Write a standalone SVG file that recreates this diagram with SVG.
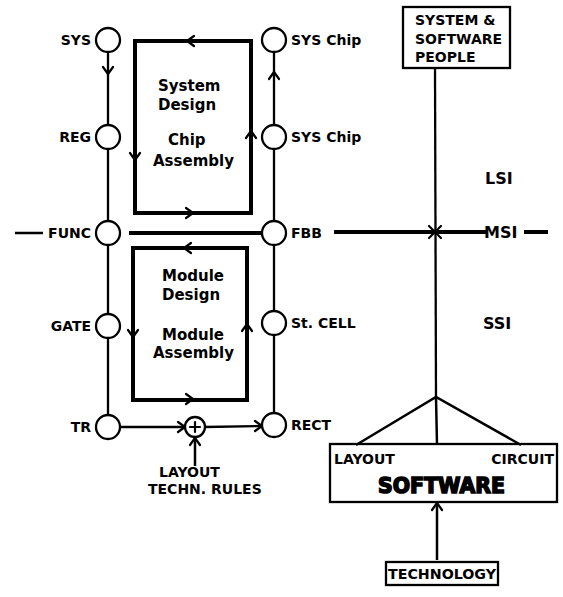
<svg xmlns="http://www.w3.org/2000/svg" width="563" height="597" viewBox="0 0 563 597">
<style>
.ln{stroke:#000;stroke-width:2.3;fill:none}
.th{stroke:#000;stroke-width:4;fill:none}
.nd{stroke:#000;stroke-width:2.3;fill:#fff}
.ar{stroke:#000;stroke-width:2.2;fill:none;stroke-linecap:round;stroke-linejoin:round}
text{font-family:"DejaVu Sans","Liberation Sans",sans-serif;font-weight:bold;font-size:14px;fill:#000}
.bx{font-size:15px}
.big{font-size:16px}
.end{text-anchor:end}
.mid{text-anchor:middle}
</style>
<defs>
<path id="cd" class="ar" d="M-5,-7 L0,0 L5,-7"/>
</defs>
<rect width="563" height="597" fill="#fff"/>
<g id="connectors">
<line class="ln" x1="108" y1="52" x2="108" y2="125"/>
<line class="ln" x1="108" y1="149" x2="108" y2="221"/>
<line class="ln" x1="108" y1="245" x2="108" y2="314"/>
<line class="ln" x1="108" y1="338" x2="108" y2="415"/>
<use href="#cd" transform="translate(108,74)"/>
<line class="ln" x1="274" y1="52" x2="274" y2="125"/>
<line class="ln" x1="274" y1="149" x2="274" y2="221"/>
<line class="ln" x1="274" y1="245" x2="274" y2="311"/>
<line class="ln" x1="274" y1="335" x2="274" y2="413"/>
<use href="#cd" transform="translate(274,72) rotate(180)"/>
<line class="ln" x1="15" y1="233" x2="43" y2="233" style="stroke-width:2.5"/>
<line class="th" x1="129" y1="233" x2="262" y2="233"/>
<line class="ln" x1="120" y1="427" x2="185" y2="427"/>
<use href="#cd" transform="translate(185,427) rotate(-90)"/>
<line class="ln" x1="205" y1="427" x2="262" y2="426"/>
<use href="#cd" transform="translate(262,426) rotate(-90)"/>
<line class="ln" x1="195" y1="466" x2="195" y2="438" style="stroke-width:2.5"/>
<use href="#cd" transform="translate(195,438) rotate(180)"/>
<line class="ln" x1="435" y1="68" x2="436" y2="397"/>
<line class="th" x1="334" y1="232" x2="486" y2="232"/>
<line class="th" x1="524" y1="232" x2="548" y2="232"/>
<path class="ar" d="M429,226 L441,238 M441,226 L429,238"/>
<path class="ln" d="M356,445 L436,397 L521,445 M436,397 L437,445" style="stroke-width:2.5"/>
<line class="ln" x1="437" y1="560" x2="437" y2="503" style="stroke-width:2.5"/>
<use href="#cd" transform="translate(437,503) rotate(180)"/>
</g>
<g id="chip-box">
<rect class="th" x="135" y="41" width="116" height="172"/>
<use href="#cd" transform="translate(187,41) rotate(90)"/>
<use href="#cd" transform="translate(193,213) rotate(-90)"/>
<use href="#cd" transform="translate(135,160)"/>
<use href="#cd" transform="translate(251,131) rotate(180)"/>
<text class="bx" x="158" y="91">System</text>
<text class="bx" x="158" y="110">Design</text>
<text class="bx" x="168" y="145">Chip</text>
<text class="bx" x="153" y="166">Assembly</text>
</g>
<g id="module-box">
<rect class="th" x="133" y="248" width="114" height="152"/>
<use href="#cd" transform="translate(184,248) rotate(90)"/>
<use href="#cd" transform="translate(193,399) rotate(-90)"/>
<use href="#cd" transform="translate(133,337)"/>
<use href="#cd" transform="translate(247,324) rotate(180)"/>
<text class="bx" x="162" y="281">Module</text>
<text class="bx" x="162" y="300">Design</text>
<text class="bx" x="162" y="340">Module</text>
<text class="bx" x="153" y="358">Assembly</text>
</g>
<g id="node-sys"><circle class="nd" cx="108" cy="40" r="12"/><text class="end" x="91" y="45">SYS</text></g>
<g id="node-reg"><circle class="nd" cx="108" cy="137" r="12"/><text class="end" x="91" y="142">REG</text></g>
<g id="node-func"><circle class="nd" cx="108" cy="233" r="12"/><text class="end" x="91" y="238">FUNC</text></g>
<g id="node-gate"><circle class="nd" cx="108" cy="326" r="12"/><text class="end" x="91" y="331">GATE</text></g>
<g id="node-tr"><circle class="nd" cx="108" cy="427" r="12"/><text class="end" x="91" y="432">TR</text></g>
<g id="node-syschip1"><circle class="nd" cx="274" cy="40" r="12"/><text x="291" y="45">SYS Chip</text></g>
<g id="node-syschip2"><circle class="nd" cx="274" cy="137" r="12"/><text x="291" y="142">SYS Chip</text></g>
<g id="node-fbb"><circle class="nd" cx="274" cy="233" r="12"/><text x="291" y="238">FBB</text></g>
<g id="node-stcell"><circle class="nd" cx="274" cy="323" r="12"/><text x="291" y="328">St. CELL</text></g>
<g id="node-rect"><circle class="nd" cx="274" cy="425" r="12"/><text x="291" y="430">RECT</text></g>
<g id="node-plus"><circle class="nd" cx="195" cy="427" r="10"/><path class="ar" d="M195,422 L195,432 M190,427 L200,427"/></g>
<g id="label-layout-rules">
<text x="159" y="477">LAYOUT</text>
<text x="148" y="494">TECHN. RULES</text>
</g>
<g id="node-people">
<rect class="ln" x="403" y="7" width="107" height="61"/>
<text x="415" y="25">SYSTEM &amp;</text>
<text x="415" y="44">SOFTWARE</text>
<text x="415" y="62">PEOPLE</text>
</g>
<g id="levels">
<text class="big" x="485" y="184">LSI</text>
<text class="big" x="484" y="238">MSI</text>
<text class="big" x="483" y="329">SSI</text>
</g>
<g id="node-software">
<rect class="ln" x="330" y="444" width="227" height="58"/>
<text x="334" y="464">LAYOUT</text>
<text class="end" x="554" y="464">CIRCUIT</text>
<text x="378" y="493" style="font-size:21px;font-weight:900;stroke:#000;stroke-width:1.6" textLength="127" lengthAdjust="spacingAndGlyphs">SOFTWARE</text>
</g>
<g id="node-technology">
<rect class="ln" x="386" y="562" width="112" height="23"/>
<text x="388" y="579" textLength="108" lengthAdjust="spacingAndGlyphs">TECHNOLOGY</text>
</g>
</svg>
